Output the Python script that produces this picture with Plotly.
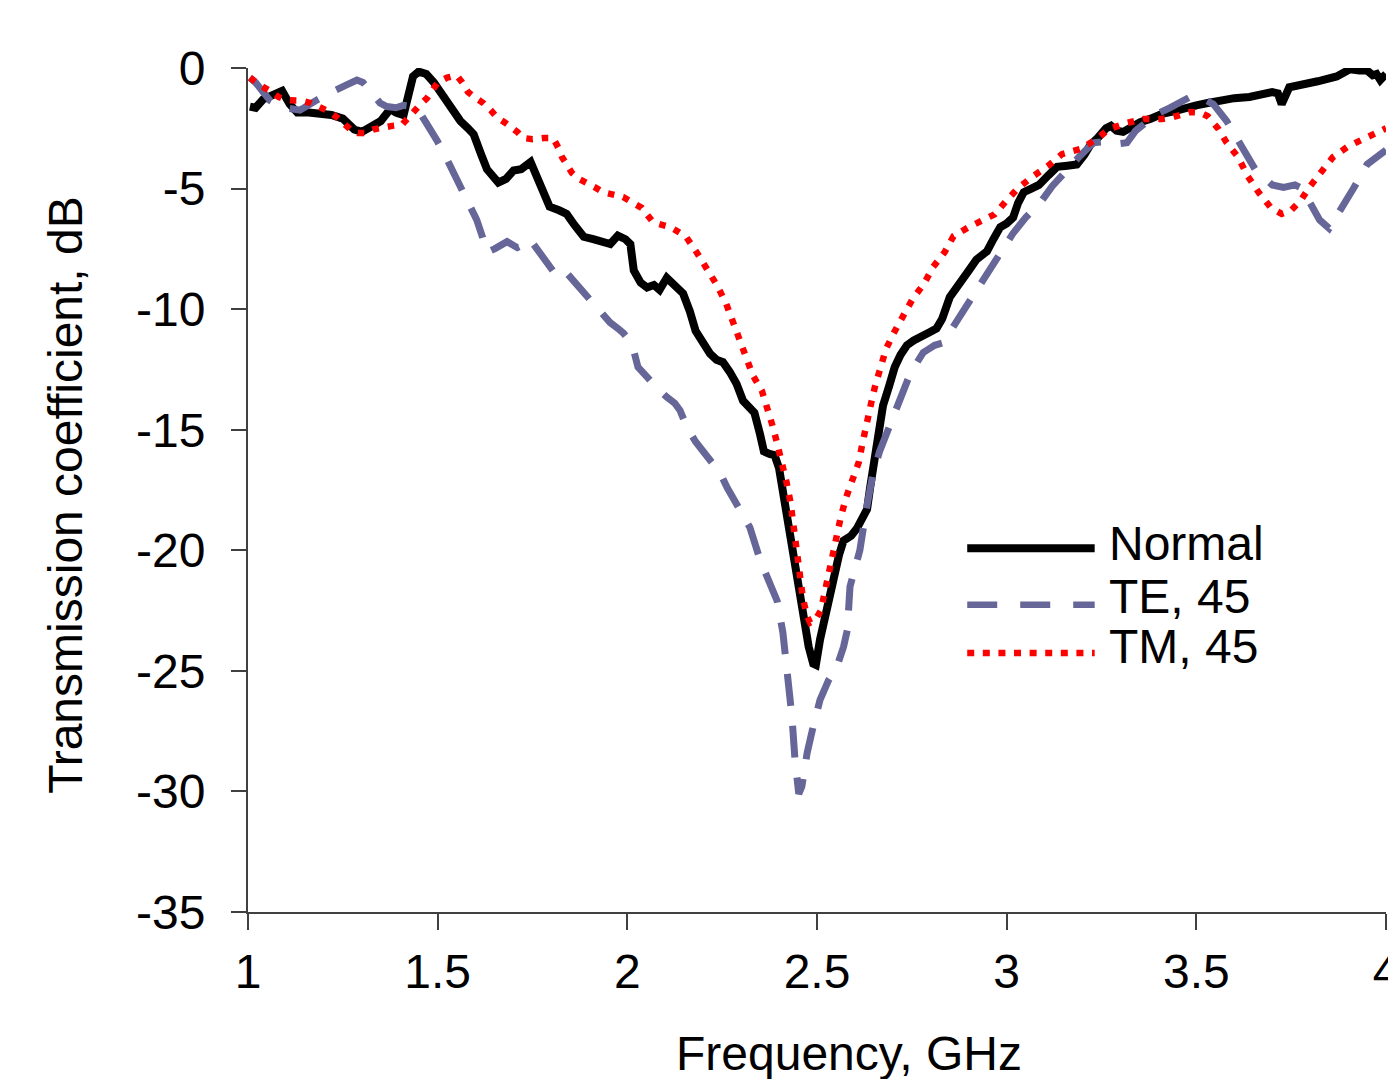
import plotly.graph_objects as go

# ---------------- data ----------------
normal_f = [1.005, 1.02, 1.04, 1.06, 1.09, 1.11, 1.13, 1.16, 1.19, 1.22, 1.25, 1.28, 1.30, 1.32, 1.35,
            1.375, 1.39, 1.41, 1.425, 1.435, 1.45, 1.47, 1.49, 1.51, 1.535, 1.56, 1.58, 1.595, 1.615,
            1.63, 1.66, 1.68, 1.70, 1.72, 1.745, 1.77, 1.795, 1.82, 1.84, 1.86, 1.885, 1.91, 1.935,
            1.955, 1.975, 1.995, 2.008, 2.017, 2.035, 2.052, 2.07, 2.085, 2.104, 2.125, 2.147, 2.165,
            2.18, 2.2, 2.218, 2.235, 2.252, 2.27, 2.288, 2.305, 2.32, 2.335, 2.35, 2.36, 2.375, 2.388,
            2.40, 2.415, 2.43, 2.445, 2.463, 2.478, 2.49, 2.497, 2.508, 2.525, 2.542, 2.558, 2.57,
            2.59, 2.605, 2.62, 2.632, 2.64, 2.648, 2.66, 2.674, 2.69, 2.705, 2.72, 2.737, 2.755, 2.775,
            2.798, 2.815, 2.83, 2.85, 2.87, 2.885, 2.9, 2.92, 2.948, 2.965, 2.983, 3.0, 3.017, 3.03,
            3.045, 3.065, 3.085, 3.11, 3.133, 3.16, 3.185, 3.205, 3.22, 3.24, 3.262, 3.275, 3.29,
            3.307, 3.33, 3.352, 3.38, 3.41, 3.44, 3.47, 3.5, 3.53, 3.555, 3.6, 3.64, 3.67, 3.70,
            3.715, 3.725, 3.745, 3.78, 3.82, 3.87, 3.89, 3.905, 3.93, 3.95, 3.965, 3.975, 3.985, 4.0]
normal_db = [-1.6, -1.65, -1.3, -1.15, -0.95, -1.5, -1.85, -1.85, -1.9, -1.95, -2.1, -2.55, -2.65, -2.5,
             -2.2, -1.7, -1.85, -1.95, -0.9, -0.35, -0.15, -0.25, -0.6, -1.1, -1.6, -2.2, -2.5, -2.75,
             -3.6, -4.2, -4.75, -4.6, -4.25, -4.2, -3.9, -4.8, -5.75, -5.9, -6.05, -6.5, -7.0, -7.1,
             -7.25, -7.3, -6.95, -7.1, -7.3, -8.4, -8.9, -9.1, -9.0, -9.2, -8.7, -9.0, -9.35, -10.1,
             -10.9, -11.4, -11.85, -12.1, -12.2, -12.6, -13.1, -13.8, -14.0, -14.3, -15.2, -15.9,
             -16.0, -16.05, -16.6, -18.0, -19.3, -20.8, -22.8, -24.0, -24.7, -24.75, -23.7, -22.4,
             -21.3, -20.2, -19.6, -19.4, -19.1, -18.7, -18.3, -17.4, -16.6, -15.4, -14.0, -13.2,
             -12.4, -11.9, -11.5, -11.3, -11.1, -10.95, -10.8, -10.4, -9.5, -9.1, -8.8, -8.4, -7.95,
             -7.6, -7.1, -6.6, -6.45, -6.2, -5.6, -5.15, -5.0, -4.85, -4.45, -4.1, -4.05, -4.0, -3.6,
             -3.2, -2.9, -2.5, -2.4, -2.6, -2.65, -2.4, -2.25, -2.1, -1.9, -1.8, -1.65, -1.55, -1.45,
             -1.35, -1.25, -1.2, -1.1, -1.0, -1.05, -1.5, -0.8, -0.65, -0.55, -0.35, -0.2, -0.05,
             -0.1, -0.1, -0.3, -0.25, -0.5, -0.25]

te_f = [1.005, 1.02, 1.04, 1.058, 1.08, 1.1, 1.137, 1.16, 1.185, 1.208, 1.23, 1.26, 1.287, 1.303,
        1.325, 1.348, 1.366, 1.39, 1.41, 1.435, 1.455, 1.472, 1.498, 1.525, 1.55, 1.575, 1.603,
        1.618, 1.63, 1.65, 1.683, 1.71, 1.725, 1.743, 1.77, 1.795, 1.815, 1.84, 1.86, 1.875, 1.9,
        1.93, 1.954, 1.975, 1.99, 2.005, 2.015, 2.028, 2.05, 2.08, 2.104, 2.125, 2.139, 2.157, 2.18,
        2.2, 2.218, 2.245, 2.263, 2.29, 2.31, 2.323, 2.35, 2.375, 2.395, 2.41, 2.424, 2.434, 2.442,
        2.452, 2.46, 2.474, 2.49, 2.508, 2.53, 2.553, 2.57, 2.58, 2.587, 2.6, 2.613, 2.63, 2.648,
        2.665, 2.685, 2.703, 2.72, 2.74, 2.764, 2.78, 2.79, 2.81, 2.832, 2.86, 2.895, 2.915, 2.938,
        2.964, 2.99, 3.017, 3.05, 3.088, 3.12, 3.15, 3.19, 3.228, 3.26, 3.29, 3.317, 3.34, 3.37,
        3.397, 3.43, 3.465, 3.49, 3.515, 3.545, 3.58, 3.61, 3.655, 3.70, 3.73, 3.76, 3.78, 3.80,
        3.825, 3.85, 3.88, 3.914, 3.95, 3.99, 4.0]
te_db = [-0.4, -0.6, -1.0, -1.35, -1.55, -1.65, -1.75, -1.5, -1.3, -1.1, -0.9, -0.7, -0.5, -0.6, -1.0,
         -1.45, -1.6, -1.65, -1.55, -1.6, -1.9, -2.3, -3.0, -3.8, -4.65, -5.4, -6.3, -7.0, -7.65,
         -7.5, -7.2, -7.45, -7.35, -7.1, -7.7, -8.3, -8.65, -8.5, -8.85, -9.2, -9.6, -10.1, -10.55,
         -10.8, -11.0, -11.3, -11.6, -12.4, -12.8, -13.3, -13.65, -13.9, -14.2, -14.9, -15.5, -15.9,
         -16.15, -16.8, -17.4, -18.1, -18.6, -19.05, -20.4, -21.3, -22.1, -23.4, -25.3, -26.9, -28.7,
         -30.1, -29.8, -28.4, -27.3, -26.2, -25.4, -24.8, -24.0, -23.3, -21.5, -20.7, -20.0, -18.3,
         -16.8, -15.9, -15.1, -14.4, -13.8, -12.9, -12.2, -11.8, -11.7, -11.5, -11.4, -10.7, -9.9,
         -9.3, -8.7, -8.1, -7.4, -6.85, -6.2, -5.6, -4.9, -4.35, -3.7, -3.1, -3.05, -3.15, -3.1, -2.6,
         -2.2, -1.9, -1.65, -1.4, -1.15, -1.25, -1.5, -2.2, -3.0, -4.2, -4.85, -4.95, -4.85, -5.0,
         -5.6, -6.3, -6.65, -5.9, -5.0, -4.0, -3.5, -3.4]

tm_f = [1.005, 1.03, 1.058, 1.08, 1.103, 1.14, 1.165, 1.19, 1.213, 1.235, 1.255, 1.27, 1.29, 1.308,
        1.33, 1.356, 1.38, 1.406, 1.42, 1.435, 1.455, 1.472, 1.488, 1.5, 1.525, 1.55, 1.565, 1.58,
        1.6, 1.62, 1.64, 1.656, 1.676, 1.696, 1.71, 1.725, 1.75, 1.78, 1.804, 1.818, 1.828, 1.842,
        1.854, 1.872, 1.893, 1.915, 1.936, 1.96, 1.989, 2.01, 2.038, 2.068, 2.09, 2.113, 2.135,
        2.155, 2.183, 2.21, 2.236, 2.26, 2.277, 2.295, 2.31, 2.331, 2.355, 2.371, 2.384, 2.397,
        2.41, 2.42, 2.43, 2.437, 2.445, 2.45, 2.455, 2.463, 2.474, 2.482, 2.495, 2.51, 2.521, 2.531,
        2.54, 2.55, 2.563, 2.577, 2.595, 2.61, 2.62, 2.63, 2.642, 2.653, 2.668, 2.682, 2.702, 2.727,
        2.752, 2.782, 2.806, 2.836, 2.86, 2.9, 2.945, 2.968, 2.996, 3.03, 3.067, 3.109, 3.146,
        3.194, 3.238, 3.27, 3.317, 3.362, 3.41, 3.44, 3.484, 3.51, 3.53, 3.557, 3.58, 3.61, 3.636,
        3.666, 3.697, 3.725, 3.75, 3.775, 3.80, 3.83, 3.86, 3.9, 3.95, 3.975, 4.0]
tm_db = [-0.4, -0.7, -0.95, -1.2, -1.33, -1.35, -1.45, -1.6, -1.8, -2.05, -2.35, -2.55, -2.7, -2.7,
         -2.55, -2.45, -2.4, -2.35, -2.1, -1.8, -1.5, -1.25, -0.9, -0.6, -0.4, -0.3, -0.6, -1.0,
         -1.25, -1.45, -1.75, -2.05, -2.25, -2.45, -2.65, -2.9, -2.95, -2.9, -2.9, -3.3, -3.7, -4.05,
         -4.35, -4.6, -4.75, -4.95, -5.15, -5.25, -5.35, -5.55, -5.8, -6.4, -6.5, -6.6, -6.8, -7.0,
         -7.65, -8.3, -9.0, -9.75, -10.5, -11.25, -12.0, -12.75, -13.4, -14.15, -14.9, -15.7, -16.45,
         -17.2, -18.0, -18.8, -19.65, -20.4, -21.2, -22.0, -22.75, -23.0, -22.9, -22.5, -21.7, -20.9,
         -20.2, -19.4, -18.6, -17.8, -17.1, -16.35, -15.55, -14.7, -13.95, -13.2, -12.45, -11.65,
         -11.0, -10.25, -9.58, -8.95, -8.25, -7.65, -6.97, -6.6, -6.24, -6.07, -5.56, -4.98, -4.52,
         -4.06, -3.57, -3.36, -2.94, -2.53, -2.28, -2.11, -2.11, -2.03, -1.83, -1.85, -2.0, -2.5,
         -3.1, -3.7, -4.5, -5.2, -5.8, -6.05, -5.9, -5.5, -4.9, -4.3, -3.7, -3.25, -2.85, -2.65, -2.5]

series_names = ["Normal", "TE, 45", "TM, 45"]
x_ticks = [1, 1.5, 2, 2.5, 3, 3.5, 4]
x_tick_text = ["1", "1.5", "2", "2.5", "3", "3.5", "4"]
y_ticks = [0, -5, -10, -15, -20, -25, -30, -35]
y_tick_text = ["0", "-5", "-10", "-15", "-20", "-25", "-30", "-35"]
x_title = "Frequency, GHz"
y_title = "Transmission coefficient, dB"

# ---------------- styling ----------------
FONT = "Liberation Sans, Arial, sans-serif"
FS = 48
AX = "#404040"
colors = ["#000000", "#666699", "#ff0000"]
widths = [8, 7, 6.5]
dashes = ["solid", "32px,20px", "6.5px,9px"]
legend_dashes = ["solid", "30px,23px", "7px,8.6px"]

fig = go.Figure()
for f, d, name, c, w, ds in zip([normal_f, te_f, tm_f], [normal_db, te_db, tm_db],
                                series_names, colors, widths, dashes):
    fig.add_trace(go.Scatter(x=f, y=d, mode="lines", name=name,
                             line=dict(color=c, width=w, dash=ds), showlegend=False))

# manual legend (long key lines like the original)
leg_x0, leg_x1, leg_tx = 0.632, 0.744, 0.7545
leg_ys = [0.431, 0.364, 0.307]
leg_ty = [0.437, 0.374, 0.314]
for name, c, w, ds, ly, ty in zip(series_names, colors, widths, legend_dashes, leg_ys, leg_ty):
    fig.add_shape(type="line", xref="paper", yref="paper", x0=leg_x0, x1=leg_x1, y0=ly, y1=ly,
                  line=dict(color=c, width=(w if ds == "solid" else 6.5), dash=ds))
    fig.add_annotation(text=name, xref="paper", yref="paper", x=leg_tx, y=ty, xanchor="left",
                       yanchor="middle", showarrow=False, font=dict(family=FONT, size=FS, color="#000"))

fig.add_annotation(text=x_title, xref="paper", yref="paper", x=0.528, y=-0.168, xanchor="center",
                   yanchor="middle", showarrow=False, font=dict(family=FONT, size=FS, color="#000"))
fig.add_annotation(text=y_title, xref="paper", yref="paper", x=-0.161, y=0.494, xanchor="center",
                   yanchor="middle", textangle=-90, showarrow=False,
                   font=dict(family=FONT, size=FS, color="#000"))

fig.update_layout(
    width=1388, height=1079,
    margin=dict(l=248, r=2, t=68, b=167, autoexpand=False),
    paper_bgcolor="white", plot_bgcolor="white",
    font=dict(family=FONT, size=FS, color="#000"),
    showlegend=False,
)
fig.update_xaxes(range=[1, 4], tickvals=x_ticks, ticktext=x_tick_text, showgrid=False, zeroline=False,
                 showline=True, linecolor=AX, linewidth=2, ticks="outside", ticklen=16, tickwidth=1.5,
                 tickcolor=AX, ticklabelstandoff=0, ticklabeloverflow="allow", automargin=False,
                 tickfont=dict(family=FONT, size=FS, color="#000"))
fig.update_yaxes(range=[-35, 0], tickvals=y_ticks, ticktext=y_tick_text, showgrid=False, zeroline=False,
                 showline=True, linecolor=AX, linewidth=2, ticks="outside", ticklen=15, tickwidth=1.5,
                 tickcolor=AX, ticklabelstandoff=16, automargin=False,
                 tickfont=dict(family=FONT, size=FS, color="#000"))

# remove the page's default body margin so the figure fills the window exactly
fig.write_html("out.html", config={"displayModeBar": False},
               post_script="document.body.style.margin='0';document.body.style.overflow='hidden';")
